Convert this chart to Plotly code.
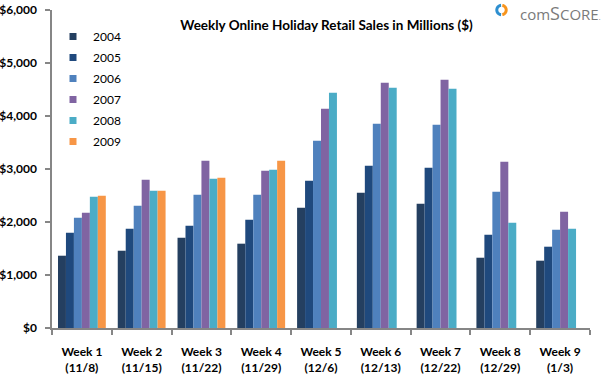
import math
import plotly.graph_objects as go

weeks = ["Week 1<br>(11/8)", "Week 2<br>(11/15)", "Week 3<br>(11/22)", "Week 4<br>(11/29)",
         "Week 5<br>(12/6)", "Week 6<br>(12/13)", "Week 7<br>(12/22)", "Week 8<br>(12/29)", "Week 9<br>(1/3)"]
years = ["2004", "2005", "2006", "2007", "2008", "2009"]
sales_2004 = [1364, 1458, 1704, 1591, 2270, 2553, 2345, 1326, 1270]
sales_2005 = [1798, 1874, 1930, 2043, 2779, 3062, 3025, 1760, 1534]
sales_2006 = [2081, 2308, 2515, 2515, 3534, 3855, 3836, 2572, 1855]
sales_2007 = [2175, 2798, 3157, 2968, 4138, 4628, 4685, 3138, 2194]
sales_2008 = [2477, 2591, 2817, 2987, 4440, 4534, 4515, 1987, 1874]
sales_2009 = [2496, 2591, 2836, 3157, None, None, None, None, None]
series = [sales_2004, sales_2005, sales_2006, sales_2007, sales_2008, sales_2009]
colors = ["#243F60", "#1F497D", "#4F81BD", "#8064A2", "#4BACC6", "#F79646"]
y_ticks = [0, 1000, 2000, 3000, 4000, 5000, 6000]
y_labels = ["$0", "$1,000", "$2,000", "$3,000", "$4,000", "$5,000", "$6,000"]

FONT = "Lato"
fig = go.Figure()
for yr, vals, c in zip(years, series, colors):
    fig.add_trace(go.Bar(x=weeks, y=vals, name=yr, marker=dict(color=c, line=dict(width=0)),
                         showlegend=False, legendgroup=yr))
    fig.add_trace(go.Scatter(x=[None], y=[None], mode="markers", name=yr, legendgroup=yr,
                             marker=dict(symbol="square", size=7, color=c)))

W, H = 605, 380
ml, mr, mt, mb = 52, 15, 10, 52
pw, ph = W - ml - mr, H - mt - mb

def px(x):
    return (x - ml) / pw

def py(y):
    return (H - mb - y) / ph

fig.update_layout(
    width=W, height=H,
    margin=dict(l=ml, r=mr, t=mt, b=mb, autoexpand=False),
    paper_bgcolor="white", plot_bgcolor="white",
    barmode="group", bargap=0.2, bargroupgap=0,
    font=dict(family=FONT, color="#000000"),
    title=dict(text="<b>Weekly Online Holiday Retail Sales in Millions ($)</b>",
               font=dict(family=FONT, size=13.5, color="#000000"),
               xref="paper", x=px(326.5), xanchor="center",
               yref="container", y=1 - 25 / H, yanchor="middle"),
    legend=dict(x=px(53), y=py(22), xanchor="left", yanchor="top",
                bgcolor="rgba(0,0,0,0)", font=dict(family=FONT, size=12, color="#000000"),
                tracegroupgap=2, itemwidth=30),
    xaxis=dict(showline=True, linecolor="#868686", linewidth=1.5, ticks="outside",
               tickson="boundaries", ticklen=5, tickcolor="#868686", tickwidth=1.5,
               tickfont=dict(family=FONT, size=12, color="#000000"), showgrid=False,
               ticklabelstandoff=12, automargin=False,
               tickvals=weeks, ticktext=["<b>" + w + "</b>" for w in weeks]),
    yaxis=dict(range=[0, 6000], tickvals=y_ticks, ticktext=["<b>" + t + "</b>" for t in y_labels],
               showline=True, automargin=False,
               linecolor="#868686", linewidth=1.5, ticks="outside", ticklen=5,
               tickcolor="#868686", tickwidth=1.5, showgrid=False, zeroline=False,
               ticklabelstandoff=6,
               tickfont=dict(family=FONT, size=12, color="#000000")),
)

# comScore logo
cx, cy, r_out, r_in = 501.5, 10, 6.2, 3.2
def ring(a0, a1, n=20):
    pts_o = [(cx + r_out * math.cos(math.radians(a0 + (a1 - a0) * i / n)),
              cy - r_out * math.sin(math.radians(a0 + (a1 - a0) * i / n))) for i in range(n + 1)]
    pts_i = [(cx + r_in * math.cos(math.radians(a1 - (a1 - a0) * i / n)),
              cy - r_in * math.sin(math.radians(a1 - (a1 - a0) * i / n))) for i in range(n + 1)]
    pts = pts_o + pts_i
    return "M" + " L".join(f"{px(x):.5f},{py(y):.5f}" for x, y in pts) + " Z"

fig.add_shape(type="path", path=ring(95, 265), xref="paper", yref="paper",
              fillcolor="#2E8FD0", line=dict(width=0))
fig.add_shape(type="path", path=ring(-80, 80), xref="paper", yref="paper",
              fillcolor="#F7941D", line=dict(width=0))
fig.add_annotation(text="com<span style='font-size:18px'>S</span>CORE<span style='font-size:7px'>.</span>",
                   xref="paper", yref="paper", x=px(518), y=py(13), xanchor="left", yanchor="middle",
                   showarrow=False, font=dict(family="Open Sans", size=15, color="#7A7A7A"))

fig.write_html("out.html", config={"displayModeBar": False},
               post_script="document.body.style.margin='0';")
